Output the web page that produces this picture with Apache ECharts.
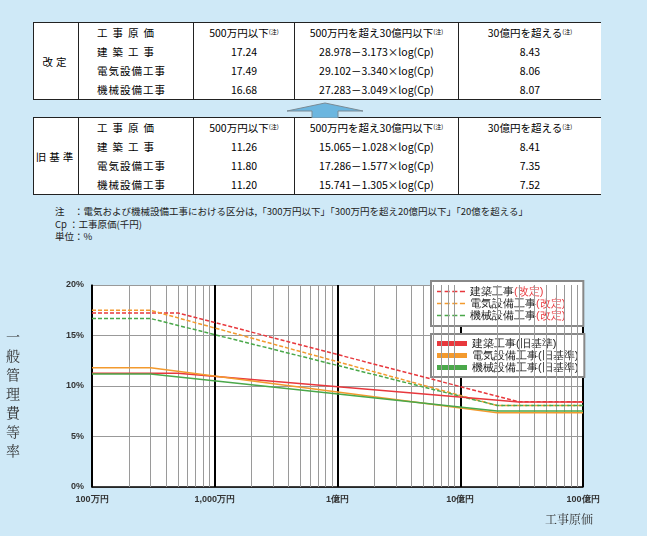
<!DOCTYPE html>
<html><head><meta charset="utf-8">
<script src="https://cdn.jsdelivr.net/npm/echarts@6/dist/echarts.min.js"></script>
<style>
body{margin:0;width:647px;height:536px;background:#cfe9f7;position:relative;font-family:"Noto Sans CJK JP",sans-serif;overflow:hidden}
table{position:absolute;left:33px;width:568px;border-collapse:collapse;background:#fff;font-size:10.5px;border-top:1.5px solid #222;border-bottom:1.5px solid #222;border-left:1px solid #222}
td{border-left:1px solid #222;height:19px;text-align:center;padding:0}
td.g{width:44px;letter-spacing:3px}
td.n{width:115px;text-align:left;padding-left:18px;box-sizing:border-box;letter-spacing:1px}
td.s{letter-spacing:5px}
sup{font-size:6px;vertical-align:3px}
#notes{position:absolute;left:55px;top:205px;font-size:9.5px;line-height:12.5px;color:#222}
#c{position:absolute;left:0;top:260px;width:647px;height:276px}
#yt{position:absolute;left:6px;top:327px;width:16px;font-family:"Noto Serif CJK JP","DejaVu Serif",serif;font-size:14px;line-height:19px;color:#333}
</style></head><body>
<table id="t1" style="top:22px"></table>
<table id="t2" style="top:117px"></table>
<svg style="position:absolute;left:285px;top:102px" width="80" height="16"><polygon points="2,9 40,1 78,9 53,9 53,16 27,16 27,9" fill="#6cb6df" stroke="#7a8b95" stroke-width="1"/></svg>
<div id="notes">注　：電気および機械設備工事における区分は,「300万円以下」「300万円を超え20億円以下」「20億を超える」<br>Cp ：工事原価(千円)<br>単位：%</div>
<div id="c"></div>
<div id="yt">一般管理費等率</div>
<script>
const header=["工事原価","500万円以下","500万円を超え30億円以下","30億円を超える"];
const kinds=["建築工事","電気設備工事","機械設備工事"];
const newRows=[["17.24","28.978－3.173×log(Cp)","8.43"],["17.49","29.102－3.340×log(Cp)","8.06"],["16.68","27.283－3.049×log(Cp)","8.07"]];
const oldRows=[["11.26","15.065－1.028×log(Cp)","8.41"],["11.80","17.286－1.577×log(Cp)","7.35"],["11.20","15.741－1.305×log(Cp)","7.52"]];
function buildTable(id,group,rows){
  let h='<tr><td class="g" rowspan="4">'+group+'</td><td class="n s">'+header[0]+'</td><td style="width:100px">'+header[1]+'<sup>(注)</sup></td><td style="width:163px">'+header[2]+'<sup>(注)</sup></td><td>'+header[3]+'<sup>(注)</sup></td></tr>';
  rows.forEach((r,i)=>{h+='<tr><td class="n'+(kinds[i].length<5?' s':'')+'">'+kinds[i]+'</td><td>'+r[0]+'</td><td>'+r[1]+'</td><td>'+r[2]+'</td></tr>';});
  document.getElementById(id).innerHTML=h;
}
buildTable('t1','改定',newRows);buildTable('t2','旧基準',oldRows);

// x in 万円, y in %
const kenchikuNew=[[100,17.24],[500,17.24],[300000,8.43],[1000000,8.43]];
const denkiNew=[[100,17.49],[300,17.49],[200000,8.06],[1000000,8.06]];
const kikaiNew=[[100,16.68],[300,16.68],[200000,8.07],[1000000,8.07]];
const kenchikuOld=[[100,11.26],[500,11.26],[300000,8.41],[1000000,8.41]];
const denkiOld=[[100,11.80],[300,11.80],[200000,7.35],[1000000,7.35]];
const kikaiOld=[[100,11.20],[300,11.20],[200000,7.52],[1000000,7.52]];
const xTickLabels={100:"100万円",1000:"1,000万円",10000:"1億円",100000:"10億円",1000000:"100億円"};
const minorX=[];
for(let d=100;d<1000000;d*=10)for(let k=2;k<=9;k++)minorX.push({xAxis:d*k});
const RED='#e8383d',ORG='#f39a2e',GRN='#4aa84a';
const chart=echarts.init(document.getElementById('c'));
const nameFmt=n=>{const m=n.match(/^(.*)(\(.*\))$/);return m[1]+'{r|'+m[2]+'}';};
function ser(name,data,color,dashed){return{name,type:'line',data,symbol:'none',color,lineStyle:{width:1.5,type:dashed?[4,2]:'solid',color},z:5};}
const series=[ser('建築工事(改定)',kenchikuNew,RED,1),ser('電気設備工事(改定)',denkiNew,ORG,1),ser('機械設備工事(改定)',kikaiNew,GRN,1),
ser('建築工事(旧基準)',kenchikuOld,RED,0),ser('電気設備工事(旧基準)',denkiOld,ORG,0),ser('機械設備工事(旧基準)',kikaiOld,GRN,0)];
series.push({type:'line',data:[],silent:true,markLine:{silent:true,symbol:'none',label:{show:false},lineStyle:{color:'#9a9a9a',width:1,type:'solid'},data:minorX},z:1});
chart.setOption({
  animation:false,
  grid:{left:92,right:64,top:25,bottom:49,backgroundColor:'#fff',show:true,borderWidth:0},
  xAxis:{type:'log',logBase:10,min:100,max:1000000,
    axisLine:{lineStyle:{color:'#000',width:1.5}},axisTick:{show:false},
    splitLine:{show:true,lineStyle:{color:'#000',width:2}},
    axisLabel:{formatter:v=>xTickLabels[Math.round(v)]||'',fontSize:9,fontWeight:'bold',color:'#333',margin:8},
    name:'工事原価',nameLocation:'end',nameGap:0,
    nameTextStyle:{fontFamily:'"Noto Serif CJK JP",serif',fontSize:12,color:'#333',verticalAlign:'top',align:'right',padding:[26,-10,0,0]}},
  yAxis:{type:'value',min:0,max:20,interval:5,
    axisLine:{show:true,lineStyle:{color:'#000',width:1.5}},axisTick:{show:false},
    splitLine:{lineStyle:{color:'#999',width:1}},
    axisLabel:{formatter:'{value}%',fontSize:9,fontWeight:'bold',color:'#333'}},
  legend:[
   {data:['建築工事(改定)','電気設備工事(改定)','機械設備工事(改定)'],orient:'vertical',left:431,top:21,width:156,
    backgroundColor:'#fff',borderColor:'#888',borderWidth:2,padding:[5,18,5,6],itemGap:1,itemWidth:28,itemHeight:3,
    formatter:nameFmt,textStyle:{fontSize:11,color:'#222',rich:{r:{fontSize:11,color:RED}}},
    icon:'path://M0,0H6V2H0Z M9,0H15V2H9Z M18,0H24V2H18Z M27,0H33V2H27Z'},
   {data:['建築工事(旧基準)','電気設備工事(旧基準)','機械設備工事(旧基準)'],orient:'vertical',left:431,top:74,width:156,
    backgroundColor:'#fff',borderColor:'#888',borderWidth:2,padding:[4,6,4,6],itemGap:1,itemWidth:30,itemHeight:5,
    textStyle:{fontSize:11,color:'#222'},icon:'rect'}
  ],
  series
});
</script></body></html>
